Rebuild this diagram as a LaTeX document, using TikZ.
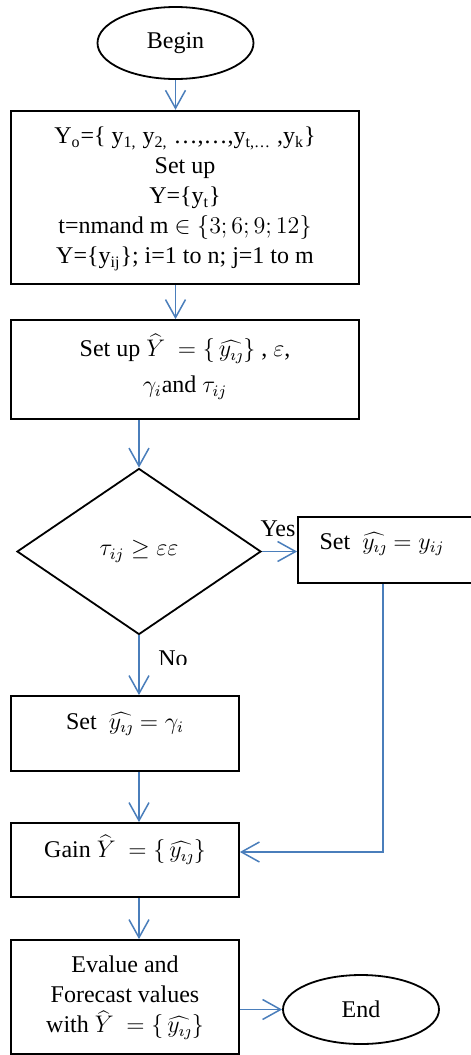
\documentclass[tikz,border=0pt]{standalone}
\usepackage{fontspec}
\setmainfont{Liberation Serif}
\usetikzlibrary{shapes.geometric,arrows.meta}
\definecolor{flowblue}{RGB}{74,126,187}
\newcommand{\yhat}{\widehat{y_{\imath\jmath}}}
\tikzset{
  every node/.style={font=\fontsize{12}{15}\selectfont},
  box/.style={draw=black, line width=0.9pt, rectangle, inner sep=0pt},
  term/.style={draw=black, line width=0.9pt, ellipse, inner sep=0pt},
  decision/.style={draw=black, line width=0.9pt, diamond, inner sep=0pt},
  txt/.style={align=center, inner sep=0pt},
  flow/.style={draw=flowblue, line width=0.75pt, -{Straight Barb[length=9pt,width=10pt]}},
}
\begin{document}
\begin{tikzpicture}[x=0.5pt,y=-0.5pt]
\useasboundingbox (0,0) rectangle (471,1055);
% shapes
\node[term, minimum width=78pt, minimum height=36pt] (begin) at (175.5,43) {Begin};
\node[box, minimum width=174pt, minimum height=86.65pt] (b1) at (185,197.35) {};
\node[txt] (t1) at (185,199) {Y\textsubscript{o}=\{ y\textsubscript{1,} y\textsubscript{2,} \ldots,\ldots,y\textsubscript{t,\ldots} ,y\textsubscript{k}\}\\
Set up\\
Y=\{y\textsubscript{t}\}\\
t=nmand m $\in\{3;6;9;12\}$\\
Y=\{y\textsubscript{ij}\}; i=1 to n; j=1 to m};
\node[box, minimum width=174pt, minimum height=49.5pt] (b2) at (185,369.5) {};
\node[txt] (t2) at (185,367) {Set up $\widehat{Y}\ =\{\,\yhat\}$ , $\varepsilon$,\\[3pt]
$\gamma_i$and $\tau_{ij}$};
\node[decision, minimum width=122pt, minimum height=83pt] (dec) at (139,551.5) {$\tau_{ij}\ge\varepsilon\varepsilon$};
\node[box, minimum width=91pt, minimum height=33pt] (sy) at (389,550) {};
\node[txt] (tsy) at (382,544) {Set\ \ $\yhat = y_{ij}$};
\node[box, minimum width=114pt, minimum height=37.5pt] (sg) at (125,733.5) {};
\node[txt] (tsg) at (125,724) {Set\ \ $\yhat=\gamma_i$};
\node[box, minimum width=114pt, minimum height=37pt] (gain) at (125,860) {};
\node[txt] (tgain) at (125,850) {Gain $\widehat{Y}\ =\{\,\yhat\}$};
\node[box, minimum width=114pt, minimum height=57pt] (ev) at (125,997) {};
\node[txt] (tev) at (125,998) {Evalue and\\Forecast values\\with $\widehat{Y}\ =\{\,\yhat\}$};
\node[term, minimum width=78pt, minimum height=34.5pt] (end) at (361,1009.5) {End};
\node[txt] (yes) at (278,529) {Yes};
\begin{scope}
  \clip (140,620) rectangle (220,664);
  \node[txt] (no) at (173,659) {No};
\end{scope}
% connectors
\draw[flow] (begin.south) -- (begin.south |- b1.north);
\draw[flow] (b1.south -| begin.south) -- (b2.north -| begin.south);
\draw[flow] (b2.south -| dec.north) -- (dec.north);
\draw[flow] (dec.east) -- (dec.east -| sy.west);
\draw[flow] (dec.south) -- (dec.south |- sg.north);
\draw[flow] (sg.south -| dec.south) -- (gain.north -| dec.south);
\draw[flow] (gain.south -| dec.south) -- (ev.north -| dec.south);
\draw[flow] (ev.east |- end.west) -- (end.west);
\coordinate (turn) at (383,852);
\draw[flow] (sy.south -| turn) -- (turn) -- (turn -| gain.east);
\end{tikzpicture}
\end{document}
